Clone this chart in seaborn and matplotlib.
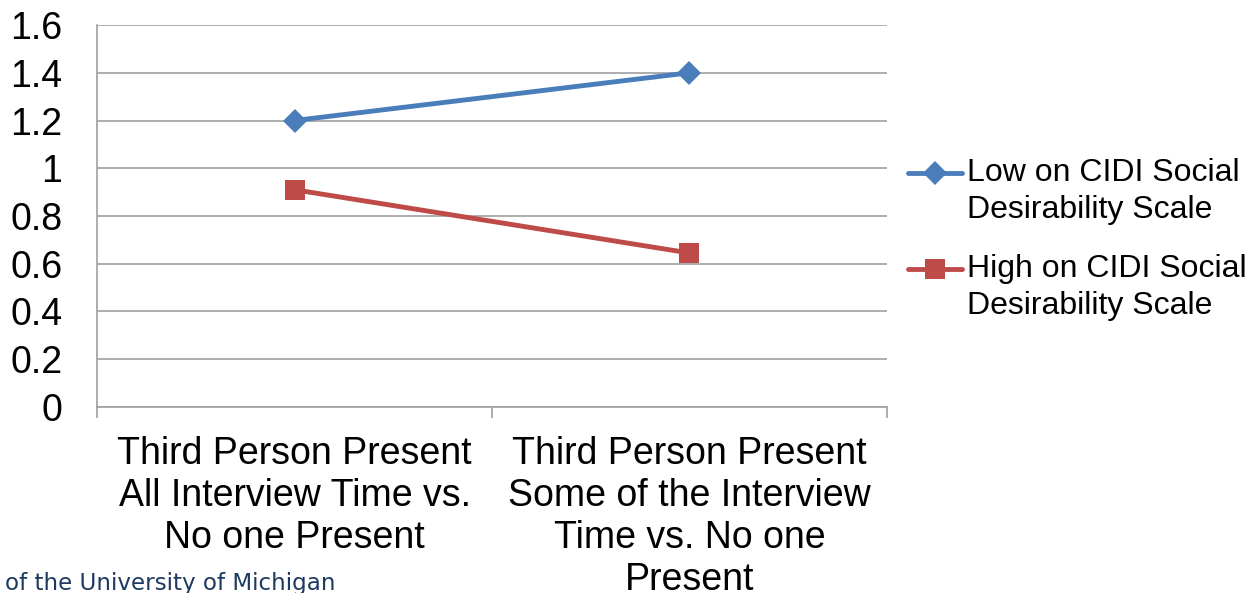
import numpy as np
import pandas as pd
import matplotlib
matplotlib.use("Agg")
import matplotlib.pyplot as plt
from matplotlib.ticker import FixedLocator
from matplotlib.legend_handler import HandlerLine2D
import seaborn as sns

# data
categories = ["Third Person Present\nAll Interview Time vs.\nNo one Present",
              "Third Person Present\nSome of the Interview\nTime vs. No one\nPresent"]
low_values = [1.2, 1.4]
high_values = [0.91, 0.645]
series_names = ["Low on CIDI Social\nDesirability Scale",
                "High on CIDI Social\nDesirability Scale"]
y_ticks = [0, 0.2, 0.4, 0.6, 0.8, 1.0, 1.2, 1.4, 1.6]
y_ticklabels = ["0", "0.2", "0.4", "0.6", "0.8", "1", "1.2", "1.4", "1.6"]

df = pd.DataFrame({
    "category": categories * 2,
    "value": low_values + high_values,
    "series": [series_names[0]] * 2 + [series_names[1]] * 2,
})

sns.set_style("white")
plt.rcParams["font.family"] = ["Liberation Sans", "DejaVu Sans"]
plt.rcParams["text.color"] = "black"
plt.rcParams["xtick.color"] = "black"
plt.rcParams["ytick.color"] = "black"

fig = plt.figure(figsize=(12.47, 5.93), dpi=100)
ax = fig.add_axes([0.0778, 0.3137, 0.7113 - 0.0778, 0.9578 - 0.3137])

sns.lineplot(data=df, x="category", y="value", hue="series", style="series",
             markers={series_names[0]: "D", series_names[1]: "s"}, dashes=False,
             palette={series_names[0]: "#4A7EBB", series_names[1]: "#BE4B48"},
             linewidth=3.5, markersize=14, markeredgewidth=0, ax=ax, sort=False)

# diamonds a bit smaller than the squares
for ln in ax.get_lines():
    if ln.get_marker() == "D":
        ln.set_markersize(12)

ax.set_xlim(-0.5, 1.5)
ax.set_ylim(0, 1.6)
ax.yaxis.set_major_locator(FixedLocator(y_ticks))
ax.set_yticklabels(y_ticklabels)
ax.grid(axis="y", color="#a0a0a0", linewidth=1.2)
ax.set_axisbelow(True)

ax.xaxis.set_minor_locator(FixedLocator([-0.5, 0.5, 1.5]))
ax.tick_params(axis="x", which="major", length=0, pad=21, labelsize=27)
ax.tick_params(axis="x", which="minor", length=8, width=1.2, color="#a0a0a0", direction="out")
ax.tick_params(axis="y", length=9, width=1.2, color="#a0a0a0", direction="out", labelsize=27, pad=16)
ax.tick_params(axis="x", bottom=True, which="both")
for t in ax.get_xticklabels():
    t.set_linespacing(1.21)
    t.set_horizontalalignment("center")

for side in ["top", "right"]:
    ax.spines[side].set_visible(False)
for side in ["left", "bottom"]:
    ax.spines[side].set_color("#a0a0a0")
    ax.spines[side].set_linewidth(1.2)

ax.set_xlabel("")
ax.set_ylabel("")


class TopLineHandler(HandlerLine2D):
    # put the legend key next to the first text line, like Excel does
    def create_artists(self, legend, orig_handle, xdescent, ydescent,
                       width, height, fontsize, trans):
        return super().create_artists(legend, orig_handle, xdescent,
                                      ydescent - 1.18 * fontsize, width, height,
                                      fontsize, trans)


handles, labels = ax.get_legend_handles_labels()
leg = ax.legend(handles, labels, loc="center left", bbox_to_anchor=(0.728, 0.596),
                bbox_transform=fig.transFigure, frameon=False, fontsize=23,
                handlelength=1.7, handletextpad=0.16, labelspacing=0.9,
                borderaxespad=0, borderpad=0,
                handler_map={h: TopLineHandler() for h in handles})
for t in leg.get_texts():
    t.set_linespacing(1.3)

fig.text(0.004, 0.005, "of the University of Michigan", color="#1F3A60",
         fontsize=16.6, family="DejaVu Sans", va="baseline", ha="left")

fig.savefig("out.png", dpi=100)
